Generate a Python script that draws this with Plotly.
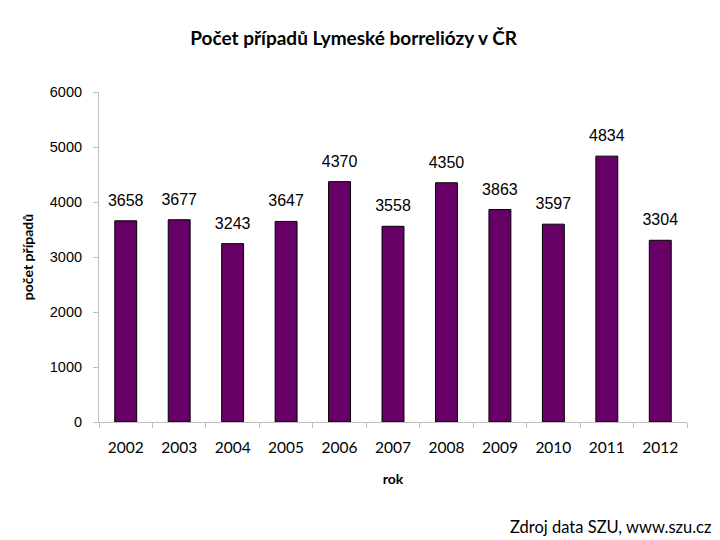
import plotly.graph_objects as go

years = ["2002", "2003", "2004", "2005", "2006", "2007", "2008", "2009", "2010", "2011", "2012"]
cases = [3658, 3677, 3243, 3647, 4370, 3558, 4350, 3863, 3597, 4834, 3304]

fig = go.Figure()
fig.add_trace(go.Bar(
    x=years, y=cases,
    marker=dict(color="#660066", line=dict(color="black", width=1)),
))
# value labels above bars (invisible marker gives the gap)
fig.add_trace(go.Scatter(
    x=years, y=cases, mode="markers+text",
    text=[str(v) for v in cases], textposition="top center",
    marker=dict(size=16, color="rgba(0,0,0,0)"),
    textfont=dict(family="Arial", size=16, color="black"),
    cliponaxis=False, hoverinfo="skip",
))

fig.update_layout(
    width=720, height=540,
    margin=dict(l=91, r=41, t=84, b=126),
    plot_bgcolor="white", paper_bgcolor="white",
    bargap=0.59, showlegend=False,
    title=dict(text="<b>Počet případů Lymeské borreliózy v ČR</b>",
               x=0.48, xanchor="center", y=0.944, yanchor="middle",
               font=dict(family="Lato", size=19, color="black")),
)
fig.update_yaxes(
    range=[0, 6000], dtick=1000, showgrid=False,
    showline=True, linecolor="#bfbfbf", linewidth=1,
    ticks="outside", ticklen=5, tickcolor="#bfbfbf", ticksuffix="  ",
    tickfont=dict(family="Arial", size=14.5, color="black"),
    title=dict(text="<b>počet případů</b>", standoff=12,
               font=dict(family="Lato", size=14, color="black")),
)
fig.update_xaxes(
    range=[-0.5, 10.5],
    showgrid=False, showline=True, linecolor="#bfbfbf", linewidth=1,
    ticks="outside", ticklen=5, tickcolor="#bfbfbf", tickson="boundaries",
    ticklabelstandoff=11,
    tickfont=dict(family="Lato", size=15.5, color="black"),
    title=dict(text="<b>rok</b>", standoff=19,
               font=dict(family="Lato", size=14, color="black")),
)
fig.add_annotation(
    text="Zdroj data SZU, www.szu.cz", xref="paper", yref="paper",
    x=1.045, y=-0.318, xanchor="right", yanchor="middle", showarrow=False,
    font=dict(family="Lato", size=16.5, color="black"),
)

fig.write_html("out.html")
